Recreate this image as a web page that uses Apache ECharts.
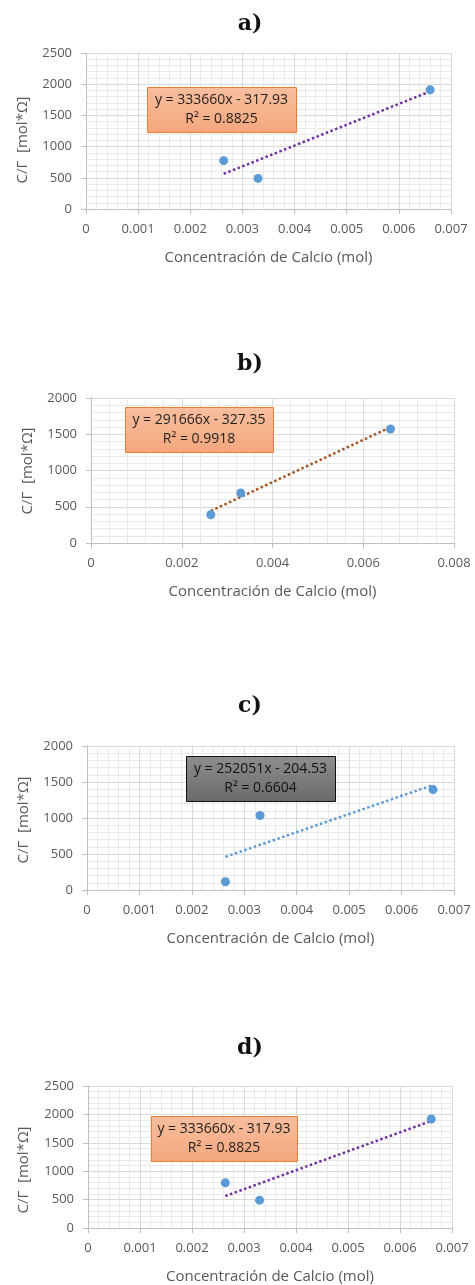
<!DOCTYPE html>
<html><head><meta charset="utf-8">
<script src="https://cdn.jsdelivr.net/npm/echarts@6/dist/echarts.min.js"></script>
<style>html,body{margin:0;padding:0;background:#fff}#c{width:475px;height:1285px}</style>
</head><body><div id="c"></div>
<script>
// ---- data ----
const panelLabels = ['a)', 'b)', 'c)', 'd)'];
const xConc = [0.00264, 0.0033, 0.0066];
const yA = [775, 490, 1910];
const yB = [390, 690, 1572];
const yC = [115, 1035, 1395];
const yD = [795, 490, 1920];
const slopes = [333660, 291666, 252051, 333660];
const intercepts = [-317.93, -327.35, -204.53, -317.93];
const r2Labels = ['0.8825', '0.9918', '0.6604', '0.8825'];
const xMaxes = [0.007, 0.008, 0.007, 0.007];
const xSteps = [0.001, 0.002, 0.001, 0.001];
const yMaxes = [2500, 2000, 2000, 2500];
const ySteps = [500, 500, 500, 500];
const xTitle = 'Concentración de Calcio (mol)';
const yTitle = 'C/Γ  [mol*Ω]';

// ---- layout / style ----
const ySeries = [yA, yB, yC, yD];
const grids = [
  {left: 86, top: 53, width: 365, height: 156},
  {left: 91, top: 398, width: 363, height: 145},
  {left: 87, top: 746, width: 367, height: 144},
  {left: 88, top: 1086, width: 364, height: 143}
];
const titleY = [24, 364, 706, 1048];
const yTitleY = [140, 471, 820, 1170];
const yTitleX = [23, 28, 24, 24];
const boxes = [
  {x: 147, y: 87, w: 149, h: 45, style: 'orange'},
  {x: 125, y: 407, w: 148, h: 45, style: 'orange'},
  {x: 186, y: 756, w: 149, h: 45, style: 'gray'},
  {x: 151, y: 1116, w: 146, h: 45, style: 'orange'}
];
const trendColors = ['#7030a0', '#a3531f', '#5b9bd5', '#7030a0'];
const FONT = '"Open Sans", "Noto Sans", sans-serif';
const GRAY = '#595959';

function eqText(i) {
  const b = intercepts[i];
  return 'y = ' + slopes[i] + 'x ' + (b < 0 ? '- ' : '+ ') + Math.abs(b).toFixed(2);
}

const option = {
  animation: false,
  backgroundColor: '#fff',
  grid: grids.map(g => Object.assign({containLabel: false}, g)),
  xAxis: grids.map((g, i) => ({
    type: 'value', gridIndex: i, min: 0, max: xMaxes[i], interval: xSteps[i],
    name: xTitle, nameLocation: 'middle', nameGap: 41,
    nameTextStyle: {color: GRAY, fontFamily: FONT, fontSize: 15},
    axisLine: {show: true, lineStyle: {color: '#bfbfbf', width: 1}},
    axisTick: {show: true, length: 5, lineStyle: {color: '#bfbfbf'}},
    axisLabel: {color: GRAY, fontFamily: FONT, fontSize: 13, margin: 14, formatter: v => String(v)},
    splitLine: {show: true, lineStyle: {color: '#d9d9d9', width: 1}},
    minorTick: {show: false, splitNumber: 5},
    minorSplitLine: {show: true, lineStyle: {color: '#e9e9e9', width: 1}}
  })),
  yAxis: grids.map((g, i) => ({
    type: 'value', gridIndex: i, min: 0, max: yMaxes[i], interval: ySteps[i],
    axisLine: {show: true, lineStyle: {color: '#bfbfbf', width: 1}},
    axisTick: {show: true, length: 5, lineStyle: {color: '#bfbfbf'}},
    axisLabel: {color: GRAY, fontFamily: FONT, fontSize: 13, margin: 14, formatter: v => String(v)},
    splitLine: {show: true, lineStyle: {color: '#d9d9d9', width: 1}},
    minorTick: {show: false, splitNumber: 5},
    minorSplitLine: {show: true, lineStyle: {color: '#e9e9e9', width: 1}}
  })),
  series: [],
  graphic: []
};

ySeries.forEach((ys, i) => {
  const xmin = Math.min(...xConc), xmax = Math.max(...xConc);
  option.series.push({
    type: 'line', xAxisIndex: i, yAxisIndex: i, showSymbol: false, silent: true,
    data: [[xmin, slopes[i] * xmin + intercepts[i]], [xmax, slopes[i] * xmax + intercepts[i]]],
    lineStyle: {color: trendColors[i], width: 2.5, type: [2.5, 2.5], cap: 'butt'},
    z: 2
  });
  option.series.push({
    type: 'scatter', xAxisIndex: i, yAxisIndex: i, symbolSize: 9,
    itemStyle: {color: '#5b9bd5', opacity: 1},
    data: xConc.map((x, k) => [x, ys[k]]),
    z: 3
  });
  option.graphic.push({
    type: 'text', x: 250, y: titleY[i], z: 10,
    style: {text: panelLabels[i], font: 'bold 22px "DejaVu Serif", serif', fill: '#111',
            textAlign: 'center', textVerticalAlign: 'middle'}
  });
  option.graphic.push({
    type: 'text', x: yTitleX[i], y: yTitleY[i], rotation: Math.PI / 2, z: 10,
    style: {text: yTitle, font: '15px ' + FONT, fill: GRAY,
            textAlign: 'center', textVerticalAlign: 'middle'}
  });
  const bx = boxes[i];
  const orange = bx.style === 'orange';
  option.graphic.push({
    type: 'rect', z: 20,
    shape: {x: bx.x + 0.5, y: bx.y + 0.5, width: bx.w, height: bx.h},
    style: {
      fill: orange
        ? new echarts.graphic.LinearGradient(0, 0, 0, 1, [{offset: 0, color: '#f8bf9f'}, {offset: 1, color: '#f3a67c'}])
        : new echarts.graphic.LinearGradient(0, 0, 0, 1, [{offset: 0, color: '#8e8e8e'}, {offset: 1, color: '#6a6a6a'}]),
      stroke: orange ? '#ed7d31' : '#111', lineWidth: 1
    }
  });
  option.graphic.push({
    type: 'text', z: 21, x: bx.x + bx.w / 2, y: bx.y + 13,
    style: {text: eqText(i), font: '14px ' + FONT, fill: orange ? '#1f1f1f' : '#111',
            textAlign: 'center', textVerticalAlign: 'middle'}
  });
  option.graphic.push({
    type: 'text', z: 21, x: bx.x + bx.w / 2, y: bx.y + 32,
    style: {text: 'R² = ' + r2Labels[i], font: '14px ' + FONT, fill: orange ? '#1f1f1f' : '#111',
            textAlign: 'center', textVerticalAlign: 'middle'}
  });
});

const chart = echarts.init(document.getElementById('c'), null, {renderer: 'canvas'});
chart.setOption(option);
</script>
</body></html>
